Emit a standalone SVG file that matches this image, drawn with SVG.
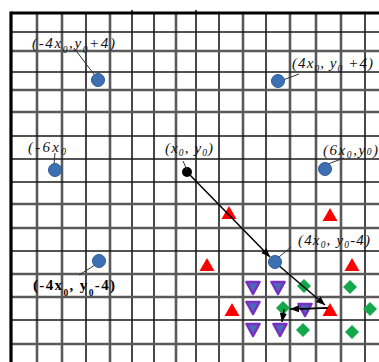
<svg xmlns="http://www.w3.org/2000/svg" width="379" height="362" viewBox="0 0 379 362">
<style>
.g1{stroke:#1a1a1a;stroke-width:1.6;fill:none}
.g2{stroke:#5a5a5a;stroke-width:2.6;fill:none}
.bd{stroke:#000;stroke-width:3.2;fill:none}
.dot{fill:#3d6fb3;stroke:#2b5a96;stroke-width:1}
.ld{stroke:#333;stroke-width:1;fill:none}
.lbl{font-family:"Liberation Serif",serif;font-style:italic;font-size:15px;fill:#111}
.blb{font-family:"Liberation Serif",serif;font-weight:bold;font-size:15px;fill:#000}
.sub{font-size:9.5px}
.arr{stroke:#000;stroke-width:1.5;fill:none;marker-end:url(#ah)}
.tri{fill:#ff0000}
.inv{fill:#4a6cb8;stroke:#7a2fc0;stroke-width:2.6;stroke-linejoin:round}
.dia{fill:#14a84c}
</style>
<defs>
<marker id="ah" viewBox="0 0 10 8" refX="10" refY="4" markerWidth="9" markerHeight="8" markerUnits="userSpaceOnUse" orient="auto">
<path d="M0,0 L10,4 L0,8 z" fill="#000"/>
</marker>
</defs>
<rect width="379" height="362" fill="#fff"/>
<g id="grid">
<line class="g2" x1="37" y1="13" x2="37" y2="362"/>
<line class="g2" x1="62" y1="13" x2="62" y2="362"/>
<line class="g1" x1="86" y1="13" x2="86" y2="362"/>
<line class="g2" x1="110" y1="13" x2="110" y2="362"/>
<line class="g1" x1="132" y1="10" x2="132" y2="362"/>
<line class="g1" x1="154" y1="13" x2="154" y2="362"/>
<line class="g2" x1="176" y1="13" x2="176" y2="362"/>
<line class="g1" x1="196" y1="10" x2="196" y2="362"/>
<line class="g1" x1="219" y1="13" x2="219" y2="362"/>
<line class="g2" x1="243" y1="13" x2="243" y2="362"/>
<line class="g1" x1="266" y1="13" x2="266" y2="362"/>
<line class="g2" x1="290" y1="13" x2="290" y2="362"/>
<line class="g2" x1="316" y1="13" x2="316" y2="362"/>
<line class="g2" x1="341" y1="13" x2="341" y2="362"/>
<line class="g1" x1="365" y1="13" x2="365" y2="362"/>
<line class="g1" x1="11" y1="32" x2="379" y2="32"/>
<line class="g2" x1="11" y1="51" x2="379" y2="51"/>
<line class="g1" x1="11" y1="72" x2="379" y2="72"/>
<line class="g2" x1="11" y1="90" x2="379" y2="90"/>
<line class="g2" x1="11" y1="112" x2="379" y2="112"/>
<line class="g1" x1="11" y1="136" x2="379" y2="136"/>
<line class="g1" x1="11" y1="159" x2="379" y2="159"/>
<line class="g1" x1="11" y1="182" x2="379" y2="182"/>
<line class="g2" x1="11" y1="204" x2="379" y2="204"/>
<line class="g2" x1="11" y1="228" x2="379" y2="228"/>
<line class="g1" x1="11" y1="251" x2="379" y2="251"/>
<line class="g2" x1="11" y1="274" x2="379" y2="274"/>
<line class="g2" x1="11" y1="297" x2="379" y2="297"/>
<line class="g1" x1="11" y1="320" x2="379" y2="320"/>
<line class="g2" x1="11" y1="344" x2="379" y2="344"/>
<line class="bd" x1="11" y1="13" x2="379" y2="13"/>
<line class="bd" x1="11" y1="11.4" x2="11" y2="362"/>
</g>
<g id="shapes">
<polygon class="tri" points="229,206 236.5,219 221.5,219"/>
<polygon class="tri" points="330,208 337.5,221 322.5,221"/>
<polygon class="tri" points="207,258 214.5,271 199.5,271"/>
<polygon class="tri" points="352,258 359.5,271 344.5,271"/>
<polygon class="tri" points="232,303 239.5,316 224.5,316"/>
<polygon class="tri" points="330,303 337.5,316 322.5,316"/>
<polygon class="inv" points="246.5,282 259.5,282 253,294"/>
<polygon class="inv" points="271.5,282 284.5,282 278,294"/>
<polygon class="inv" points="246.5,302 259.5,302 253,314"/>
<polygon class="inv" points="298.5,304 311.5,304 305,316"/>
<polygon class="inv" points="246.5,324 259.5,324 253,336"/>
<polygon class="inv" points="273.5,324 286.5,324 280,336"/>
<polygon class="dia" points="304,279 311,286 304,293 297,286"/>
<polygon class="dia" points="350,280 357,287 350,294 343,287"/>
<polygon class="dia" points="283,301 290,308 283,315 276,308"/>
<polygon class="dia" points="370,302 377,309 370,316 363,309"/>
<polygon class="dia" points="303,323 310,330 303,337 296,330"/>
<polygon class="dia" points="352,325 359,332 352,339 345,332"/>
</g>
<g id="connectors">
<line class="arr" x1="188" y1="173" x2="270" y2="257"/>
<line class="arr" x1="277" y1="264" x2="325" y2="305"/>
<line x1="300" y1="309" x2="328" y2="308" stroke="#000" stroke-width="1.5"/>
<line class="arr" x1="327" y1="308" x2="290" y2="309"/>
<line class="arr" x1="284" y1="309" x2="282" y2="322"/>
</g>
<g id="n-center">
<circle cx="187" cy="172" r="5" fill="#000"/>
<line class="ld" x1="183" y1="161" x2="187" y2="170"/>
<text class="lbl" x="165" y="153" textLength="48">(x<tspan class="sub" dy="3">0</tspan><tspan dy="-3">, y</tspan><tspan class="sub" dy="3">0</tspan><tspan dy="-3">)</tspan></text>
</g>
<g id="n-m4p4">
<line class="ld" x1="96" y1="77" x2="74" y2="48"/>
<circle class="dot" cx="98" cy="80" r="6.5"/>
<text class="lbl" x="32" y="48" textLength="83">(-4x<tspan class="sub" dy="5">0</tspan><tspan dy="-5">,y</tspan><tspan class="sub" dy="5">0</tspan><tspan dy="-5">+4)</tspan></text>
</g>
<g id="n-p4p4">
<line class="ld" x1="283" y1="80" x2="299" y2="74"/>
<circle class="dot" cx="278" cy="81" r="6.5"/>
<text class="lbl" x="292" y="68" textLength="81">(4x<tspan class="sub" dy="4">0</tspan><tspan dy="-4">, y</tspan><tspan class="sub" dy="4">0</tspan><tspan dy="-4"> +4)</tspan></text>
</g>
<g id="n-m6">
<line class="ld" x1="54" y1="165" x2="55" y2="153"/>
<circle class="dot" cx="55" cy="170" r="6.5"/>
<text class="lbl" x="28" y="152" textLength="38">(-6x<tspan class="sub" dy="3">0</tspan></text>
</g>
<g id="n-p6">
<line class="ld" x1="328" y1="164" x2="344" y2="158"/>
<circle class="dot" cx="325" cy="169" r="6.5"/>
<text class="lbl" x="323" y="155" textLength="55">(6x<tspan class="sub" dy="3">0</tspan><tspan dy="-3">,y</tspan><tspan class="sub">0</tspan>)</text>
</g>
<g id="n-m4m4">
<line class="ld" x1="95" y1="265" x2="79" y2="275"/>
<circle class="dot" cx="99" cy="261" r="6.5"/>
<text class="blb" x="33" y="290" textLength="82">(-4x<tspan class="sub" dy="6">0</tspan><tspan dy="-6">, y</tspan><tspan class="sub" dy="6">0</tspan><tspan dy="-6">-4)</tspan></text>
</g>
<g id="n-p4m4">
<line class="ld" x1="279" y1="257" x2="291" y2="247"/>
<circle class="dot" cx="275" cy="262" r="6.5"/>
<text class="lbl" x="298" y="245" textLength="72">(4x<tspan class="sub" dy="3">0</tspan><tspan dy="-3">, y</tspan><tspan class="sub" dy="3">0</tspan><tspan dy="-3">-4)</tspan></text>
</g>
</svg>
